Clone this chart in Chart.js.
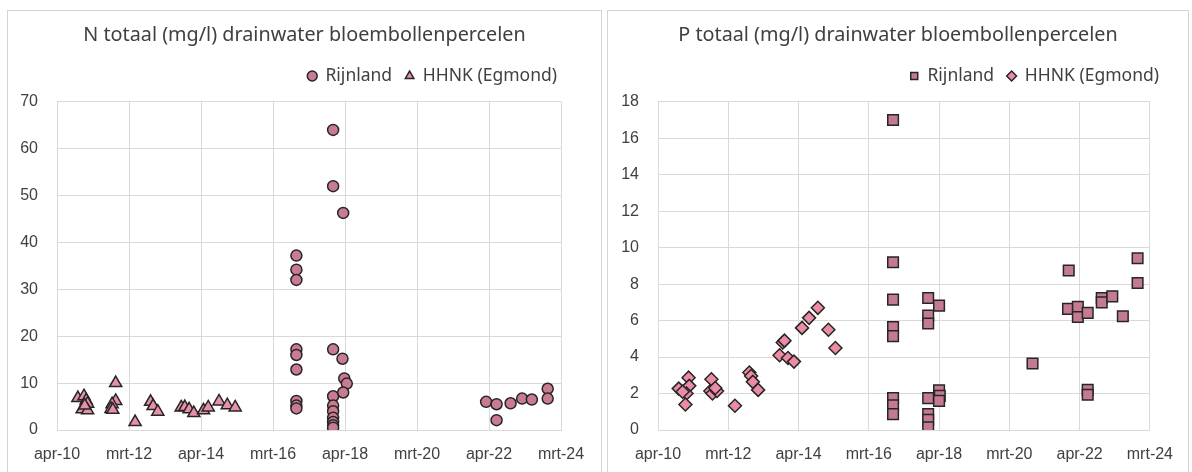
<!DOCTYPE html>
<html lang="nl">
<head>
<meta charset="UTF-8">
<title>N en P totaal drainwater bloembollenpercelen</title>
<script src="https://cdn.jsdelivr.net/npm/chart.js"></script>
<style>
  body { margin: 0; background: #fff; width: 1192px; height: 472px; overflow: hidden; position: relative; }
  .panel { position: absolute; top: 10px; height: 470px; border: 1px solid #d4d4d4; box-sizing: border-box; }
  .panel div { position: relative; height: 461px; }
</style>
</head>
<body>
<div class="panel" style="left:7px;width:595px"><div><canvas id="nChart"></canvas></div></div>
<div class="panel" style="left:607px;width:582px"><div><canvas id="pChart"></canvas></div></div>

<script>
// x-as: datum als decimaal jaar, tick elke 2 jaar vanaf apr-10
const tickLabels = ["apr-10", "mrt-12", "apr-14", "mrt-16", "apr-18", "mrt-20", "apr-22", "mrt-24"];

// N totaal (mg/l)
const nRijnlandDate = [2016.9, 2016.9, 2016.9, 2016.9, 2016.9, 2016.9, 2016.9, 2016.9, 2016.9,
  2017.92, 2017.92, 2017.92, 2017.92, 2017.92, 2017.92, 2017.92, 2017.92, 2017.92, 2017.92,
  2018.2, 2018.18, 2018.23, 2018.3, 2018.2,
  2022.17, 2022.46, 2022.46, 2022.85, 2023.17, 2023.44, 2023.88, 2023.88];
const nRijnlandVal = [37.2, 34.2, 32.0, 17.2, 16.0, 12.9, 6.2, 5.2, 4.6,
  64, 52, 17.2, 7.2, 5.2, 4.0, 2.6, 1.7, 1.0, 0.5,
  46.3, 15.2, 11.0, 9.9, 8.0,
  6.0, 5.5, 2.1, 5.7, 6.7, 6.5, 8.8, 6.7];

const nHhnkDate = [2010.83, 2011.0, 2011.06, 2011.1, 2010.95, 2011.1, 2011.02,
  2011.88, 2011.88, 2011.78, 2011.75, 2011.8,
  2012.42,
  2012.85, 2012.92, 2013.05,
  2013.7, 2013.8, 2013.92, 2014.05, 2014.32, 2014.45, 2014.75, 2014.98, 2015.2];
const nHhnkVal = [6.8, 7.2, 6.3, 5.6, 4.4, 4.2, 5.2,
  10.0, 6.2, 5.5, 4.5, 4.3,
  1.7,
  6.0, 5.1, 3.9,
  4.8, 4.9, 4.4, 3.6, 4.2, 4.8, 6.1, 5.3, 4.8];

// P totaal (mg/l)
const pRijnlandDate = [2016.94, 2016.94, 2016.94, 2016.94, 2016.94, 2016.94, 2016.94, 2016.94,
  2017.94, 2017.94, 2017.94, 2017.94, 2017.94, 2017.94, 2017.94,
  2018.25, 2018.25, 2018.27, 2018.25,
  2020.91,
  2021.94, 2021.92, 2022.2, 2022.2, 2022.48, 2022.48, 2022.48, 2022.88, 2022.88, 2023.18, 2023.48, 2023.9, 2023.9];
const pRijnlandVal = [17.0, 9.2, 7.15, 5.64, 5.15, 1.75, 1.35, 0.87,
  7.24, 6.27, 5.84, 1.75, 0.87, 0.56, 0.15,
  6.82, 2.18, 1.87, 1.6,
  3.65,
  8.75, 6.64, 6.75, 6.2, 6.42, 2.2, 1.93, 7.24, 7.0, 7.33, 6.24, 9.42, 8.06];

const pHhnkDate = [2010.84, 2011.12, 2011.14, 2011.06, 2011.03, 2010.95,
  2011.77, 2011.74, 2011.8, 2011.93, 2011.88,
  2012.44,
  2012.85, 2012.9, 2012.95, 2013.1,
  2013.71, 2013.8, 2013.85, 2013.95, 2014.12, 2014.35, 2014.55, 2014.8, 2015.1, 2015.3];
const pHhnkVal = [2.27, 2.87, 2.42, 2.0, 1.4, 2.1,
  2.78, 2.14, 2.0, 2.14, 2.3,
  1.33,
  3.15, 2.96, 2.64, 2.2,
  4.1, 4.8, 4.9, 3.95, 3.75, 5.6, 6.15, 6.7, 5.5, 4.5];

const textColor = "#404040";
const gridColor = "#d9d9d9";

function pts(dates, vals) {
  return dates.map((d, i) => ({ x: d, y: vals[i] }));
}

// legenda: wat meer ruimte eronder, en rechts uitgelijnd met het plotvlak
const legendTweak = {
  id: "legendTweak",
  beforeLayout(chart, args, opts) {
    const lg = chart.legend;
    if (lg && !lg._patched) {
      const fit = lg.fit;
      lg.fit = function () {
        fit.call(this);
        this.height += 7;
        if (this.lineWidths) this.lineWidths[0] += opts.shift;
      };
      lg._patched = true;
    }
  }
};

function makeChart(id, cfg) {
  return new Chart(document.getElementById(id), {
    type: "scatter",
    data: { datasets: cfg.datasets },
    plugins: [legendTweak],
    options: {
      responsive: true,
      maintainAspectRatio: false,
      animation: false,
      events: [],
      layout: { padding: 0 },
      plugins: {
        legendTweak: { shift: cfg.legendShift },
        title: {
          display: true,
          text: cfg.title,
          color: textColor,
          font: { family: "'Noto Sans', sans-serif", size: 19.8, weight: "normal" },
          padding: { top: 12.1, bottom: 7.4 }
        },
        legend: {
          position: "top",
          align: "end",
          labels: {
            usePointStyle: true,
            boxWidth: 9,
            boxHeight: 7,
            padding: 13,
            color: textColor,
            font: { family: "'Noto Sans', sans-serif", size: 17.5 }
          }
        },
        tooltip: { enabled: false }
      },
      scales: {
        x: {
          type: "linear",
          min: 2010.25,
          max: 2024.25,
          grid: { color: gridColor, drawTicks: false },
          border: { color: gridColor },
          ticks: {
            stepSize: 2,
            autoSkip: false,
            maxRotation: 0,
            padding: 15,
            color: textColor,
            font: { family: "'Liberation Sans', Arial, sans-serif", size: 16 },
            callback: (v, i) => tickLabels[i]
          },
          afterFit(s) { s.height = 42; }
        },
        y: {
          min: 0,
          max: cfg.yMax,
          grid: { color: gridColor, drawTicks: false },
          border: { color: gridColor },
          ticks: {
            stepSize: cfg.yStep,
            padding: 19,
            color: textColor,
            font: { family: "'Liberation Sans', Arial, sans-serif", size: 16 }
          },
          afterFit(s) { s.width = cfg.yWidth; }
        },
        // lege rechteras: alleen ruimte rechts van het plotvlak
        yRight: {
          position: "right",
          grid: { display: false },
          border: { display: false },
          ticks: { display: false },
          afterFit(s) { s.width = cfg.rightWidth; }
        }
      }
    }
  });
}

makeChart("nChart", {
  title: "N totaal (mg/l) drainwater bloembollenpercelen",
  yMax: 70, yStep: 10,
  yWidth: 49, rightWidth: 40, legendShift: 31,
  datasets: [
    {
      label: "Rijnland",
      data: pts(nRijnlandDate, nRijnlandVal),
      pointStyle: "circle",
      pointRadius: 5.5,
      backgroundColor: "#c97b91",
      borderColor: "#262626",
      borderWidth: 1.5
    },
    {
      label: "HHNK (Egmond)",
      data: pts(nHhnkDate, nHhnkVal),
      pointStyle: "triangle",
      pointRadius: 7,
      backgroundColor: "#e890a8",
      borderColor: "#262626",
      borderWidth: 1.5
    }
  ]
});

makeChart("pChart", {
  title: "P totaal (mg/l) drainwater bloembollenpercelen",
  yMax: 18, yStep: 2,
  yWidth: 50, rightWidth: 26, legendShift: 16,
  datasets: [
    {
      label: "Rijnland",
      data: pts(pRijnlandDate, pRijnlandVal),
      pointStyle: "rect",
      pointRadius: 7.5,
      backgroundColor: "#c47b91",
      borderColor: "#262626",
      borderWidth: 1.5
    },
    {
      label: "HHNK (Egmond)",
      data: pts(pHhnkDate, pHhnkVal),
      pointStyle: "rectRot",
      pointRadius: 6.5,
      backgroundColor: "#ec8ba4",
      borderColor: "#262626",
      borderWidth: 1.5
    }
  ]
});
</script>
</body>
</html>
